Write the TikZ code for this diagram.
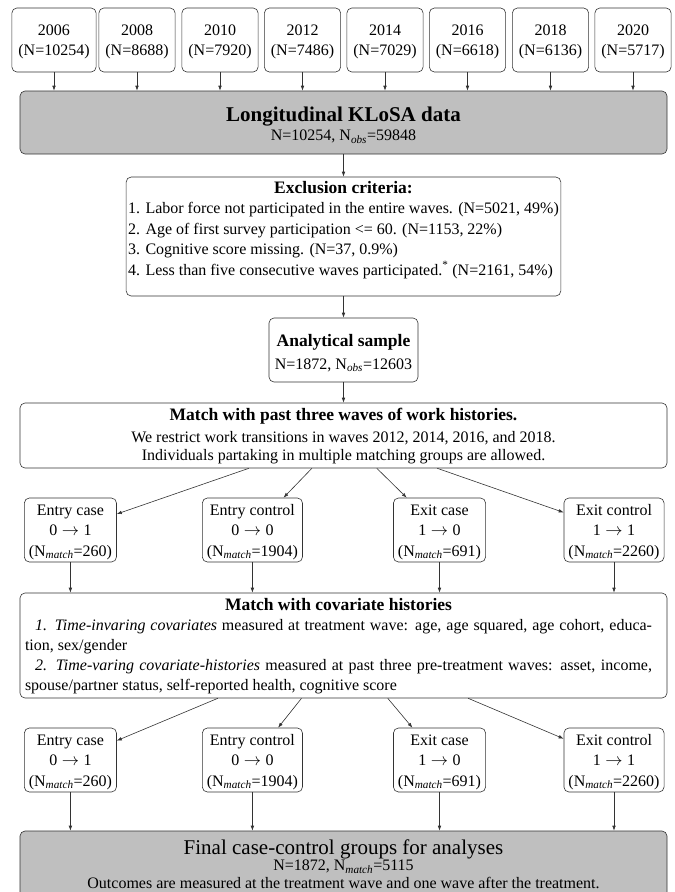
\documentclass[tikz,border=0pt]{standalone}
\usepackage{fontspec}
\setmainfont{Liberation Serif}
\usetikzlibrary{arrows.meta}
\begin{document}
\begin{tikzpicture}[x=1pt,y=-1pt,
  box/.style={draw=black!80, line width=0.6pt, rounded corners=5pt, align=center,
    font=\fontsize{16}{20.5}\selectfont, inner ysep=2pt},
  graybox/.style={box, fill=black!25},
  yearbox/.style={box, minimum height=64pt, inner xsep=6.5pt},
  casebox/.style={box, minimum height=64pt, inner xsep=4.5pt},
  widebox/.style={box, minimum width=647pt},
  arr/.style={-{Latex[length=5pt,width=3.6pt]}, draw=black!80, line width=0.6pt},
]
\useasboundingbox (0,0) rectangle (675,892);
\newcommand{\bt}[1]{{\fontsize{17.5}{20.5}\selectfont\bfseries #1}}
\newcommand{\Nsub}[1]{N\textsubscript{\textit{#1}}}
\newcommand{\tr}[2]{#1\hspace{0.28em}$\rightarrow$\hspace{0.28em}#2}
\newcommand{\up}[1]{\rule{0pt}{#1}}

% year boxes
\node[yearbox] (y2006) at (54,40)    {\up{14.5pt}2006\\(N=10254)};
\node[yearbox] (y2008) at (137,40)   {\up{14.5pt}2008\\(N=8688)};
\node[yearbox] (y2010) at (220,40)   {\up{14.5pt}2010\\(N=7920)};
\node[yearbox] (y2012) at (302.5,40) {\up{14.5pt}2012\\(N=7486)};
\node[yearbox] (y2014) at (385,40)   {\up{14.5pt}2014\\(N=7029)};
\node[yearbox] (y2016) at (467.5,40) {\up{14.5pt}2016\\(N=6618)};
\node[yearbox] (y2018) at (550.5,40) {\up{14.5pt}2018\\(N=6136)};
\node[yearbox] (y2020) at (633,40)   {\up{14.5pt}2020\\(N=5717)};

\node[graybox, widebox, minimum height=63pt] (klosa) at (343.5,122.5)
  {\up{19.7pt}{\fontsize{21}{24}\selectfont\bfseries Longitudinal KLoSA data}\\[-0.6pt]
   N=10254, \Nsub{obs}=59848};

\foreach \yr in {2006,2008,2010,2012,2014,2016,2018,2020}
  \draw[arr] (y\yr) -- (y\yr |- klosa.north);

\node[box, minimum height=119pt, inner xsep=2pt, inner ysep=1.75pt] (excl) at (343.5,236.5)
  {\begin{tabular}{@{}l@{}}
   \multicolumn{1}{@{}c@{}}{\bt{Exclusion criteria:}}\\
   1. Labor force not participated in the entire waves. (N=5021, 49\%)\\
   2. Age of first survey participation <= 60. (N=1153, 22\%)\\
   3. Cognitive score missing. (N=37, 0.9\%)\\
   4. Less than five consecutive waves participated.\textsuperscript{*} (N=2161, 54\%)\\[13pt]
   \end{tabular}};

\node[box, minimum width=149pt, minimum height=64pt] (anal) at (343.5,350)
  {\up{18.25pt}\bt{Analytical sample}\\[2.5pt] N=1872, \Nsub{obs}=12603};

\node[box, widebox, minimum height=65pt, font=\fontsize{16}{18.5}\selectfont] (match) at (343.5,435.5)
  {\up{13pt}\bt{Match with past three waves of work histories.}\\[3.5pt]
   We restrict work transitions in waves 2012, 2014, 2016, and 2018.\\
   Individuals partaking in multiple matching groups are allowed.};

\draw[arr] (klosa) -- (excl);
\draw[arr] (excl) -- (anal);
\draw[arr] (anal) -- (match);

% first row of groups
\node[casebox] (a1) at (70.4,530)  {\up{15pt}Entry case\\\tr{0}{1}\\(\Nsub{match}=260)};
\node[casebox] (a2) at (252.4,530) {\up{15pt}Entry control\\\tr{0}{0}\\(\Nsub{match}=1904)};
\node[casebox] (a3) at (439.5,530) {\up{15pt}Exit case\\\tr{1}{0}\\(\Nsub{match}=691)};
\node[casebox] (a4) at (614,530)   {\up{15pt}Exit control\\\tr{1}{1}\\(\Nsub{match}=2260)};

\foreach \g in {a1,a2,a3,a4} \draw[arr] (match) -- (\g);

\node[box, widebox, minimum height=105pt, inner sep=0pt] (cov) at (343.5,645.5)
  {\parbox{627pt}{\fontsize{16}{20}\selectfont
   {\centering\fontsize{17.5}{21}\selectfont\bfseries\up{13pt}Match with covariate histories\par}
   \setlength{\parindent}{10pt}\indent
   \textit{1. Time-invaring covariates} measured at treatment wave: age, age squared, age cohort, educa-\linebreak tion, sex/gender\par
   \textit{2. Time-varing covariate-histories} measured at past three pre-treatment waves: asset, income,\linebreak spouse/partner status, self-reported health, cognitive score}\hspace*{10pt}};

\foreach \g in {a1,a2,a3,a4} \draw[arr] (\g) -- (\g |- cov.north);

% second row of groups
\node[casebox] (b1) at (70.4,760)  {\up{15pt}Entry case\\\tr{0}{1}\\(\Nsub{match}=260)};
\node[casebox] (b2) at (252.4,760) {\up{15pt}Entry control\\\tr{0}{0}\\(\Nsub{match}=1904)};
\node[casebox] (b3) at (439.5,760) {\up{15pt}Exit case\\\tr{1}{0}\\(\Nsub{match}=691)};
\node[casebox] (b4) at (614,760)   {\up{15pt}Exit control\\\tr{1}{1}\\(\Nsub{match}=2260)};

\foreach \g in {b1,b2,b3,b4} \draw[arr] (cov) -- (\g);

\node[graybox, widebox, minimum height=65.6pt] (final) at (343.5,863.8)
  {{\fontsize{21}{24}\selectfont Final case-control groups for analyses}\\[-4pt]
   N=1872, \Nsub{match}=5115\\[-3pt]
   Outcomes are measured at the treatment wave and one wave after the treatment.};

\foreach \g in {b1,b2,b3,b4} \draw[arr] (\g) -- (\g |- final.north);
\end{tikzpicture}
\end{document}
